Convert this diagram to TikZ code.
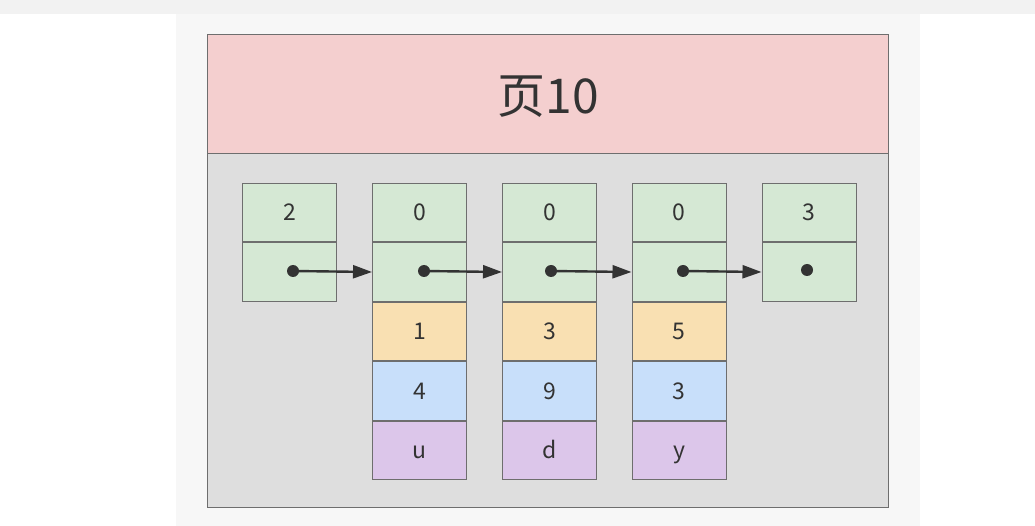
\documentclass[tikz,border=0pt]{standalone}
\usepackage{fontspec}
\setmainfont{Noto Sans CJK SC}
\usetikzlibrary{positioning,arrows.meta}
\definecolor{grn}{HTML}{D5E8D4}
\definecolor{org}{HTML}{F9E0B2}
\definecolor{blu}{HTML}{C8DFFA}
\definecolor{pur}{HTML}{DCC6EA}
\definecolor{pnk}{HTML}{F4CFCF}
\definecolor{bdy}{HTML}{DEDEDE}
\definecolor{lne}{HTML}{6E6E6E}
\definecolor{ink}{HTML}{333333}
\tikzset{
  cell/.style={draw=lne, line width=1pt, minimum width=94pt, minimum height=58.5pt, inner sep=0pt,
    text=ink, font=\fontsize{23}{23}\selectfont, text height=16pt, text depth=0pt},
  dot/.style={circle, fill=ink, inner sep=0pt, minimum size=12pt},
  link/.style={-{Triangle[length=19pt,width=13pt]}, ink, line width=2.4pt}
}
\begin{document}
\begin{tikzpicture}[x=1pt,y=-1pt]
        \useasboundingbox (0,0) rectangle (1035,526);
        \fill[white] (0,0) rectangle (1035,526);
        \fill[black!3] (176,0) rectangle (920,526);
        \fill[black!5] (0,0) rectangle (1035,14);
        % page
        \node (hdr) [draw=lne, line width=1pt, fill=pnk, minimum width=681pt, minimum height=119pt, anchor=north west,
          text=ink, font=\fontsize{48}{48}\selectfont, text height=40pt, text depth=0pt] at (207,34) {页10};
        \node (bdy) [draw=lne, line width=1pt, fill=bdy, minimum width=681pt, minimum height=354pt, anchor=north west] at (207,153) {};
        % records
        \node (h0) [cell, fill=grn] at (289.5,212.5) {2};
        \node (p0) [cell, fill=grn, below=0pt of h0] {};
        \node (h1) [cell, fill=grn] at (419.5,212.5) {0};
        \node (p1) [cell, fill=grn, below=0pt of h1] {};
        \node (a1) [cell, fill=org, below=0pt of p1] {1};
        \node (b1) [cell, fill=blu, below=0pt of a1] {4};
        \node (c1) [cell, fill=pur, below=0pt of b1] {u};
        \node (h2) [cell, fill=grn] at (549.5,212.5) {0};
        \node (p2) [cell, fill=grn, below=0pt of h2] {};
        \node (a2) [cell, fill=org, below=0pt of p2] {3};
        \node (b2) [cell, fill=blu, below=0pt of a2] {9};
        \node (c2) [cell, fill=pur, below=0pt of b2] {d};
        \node (h3) [cell, fill=grn] at (679,212.5) {0};
        \node (p3) [cell, fill=grn, below=0pt of h3] {};
        \node (a3) [cell, fill=org, below=0pt of p3] {5};
        \node (b3) [cell, fill=blu, below=0pt of a3] {3};
        \node (c3) [cell, fill=pur, below=0pt of b3] {y};
        \node (h4) [cell, fill=grn] at (809,212.5) {3};
        \node (p4) [cell, fill=grn, below=0pt of h4] {};
        % pointers
        \node (d0) [dot] at (293,271) {};
        \node (d1) [dot] at (424,271) {};
        \node (d2) [dot] at (551,271) {};
        \node (d3) [dot] at (683,271) {};
        \node (d4) [dot] at (807,270) {};
        \draw [link] (d0.center) -- (p1.west);
        \draw [link] (d1.center) -- (p2.west);
        \draw [link] (d2.center) -- (p3.west);
        \draw [link] (d3.center) -- (p4.west);
\end{tikzpicture}
\end{document}
